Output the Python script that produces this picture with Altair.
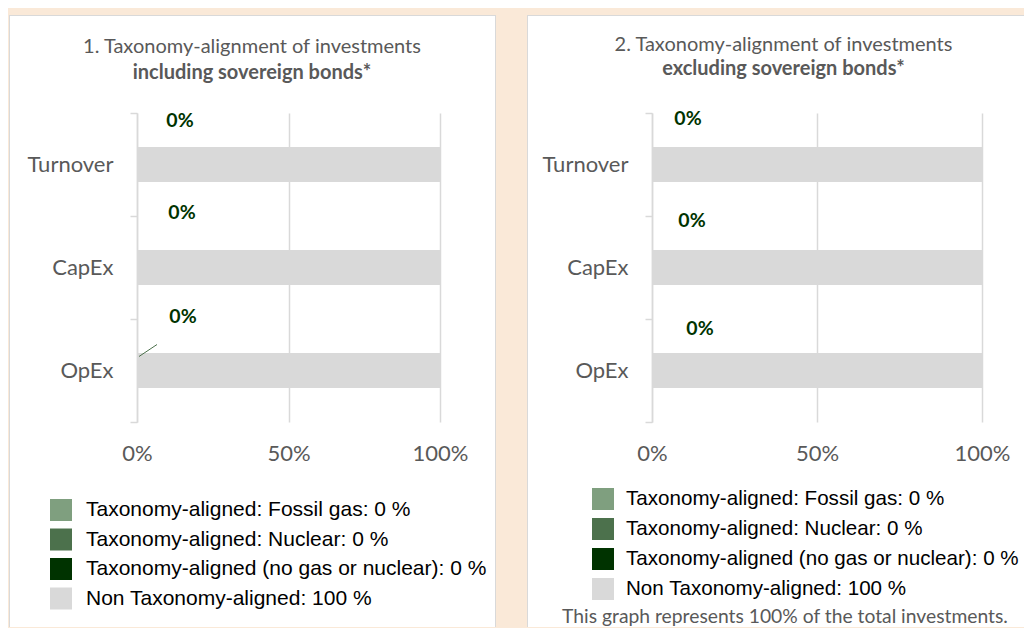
import altair as alt
import pandas as pd

# ---------------- data ----------------
categories = ["Turnover", "CapEx", "OpEx"]
series_names = [
    "Taxonomy-aligned: Fossil gas",
    "Taxonomy-aligned: Nuclear",
    "Taxonomy-aligned (no gas or nuclear)",
    "Non Taxonomy-aligned",
]
# 1. including sovereign bonds
incl_fossil_gas = [0, 0, 0]
incl_nuclear = [0, 0, 0]
incl_aligned = [0, 0, 0]
incl_non_aligned = [100, 100, 100]
# 2. excluding sovereign bonds
excl_fossil_gas = [0, 0, 0]
excl_nuclear = [0, 0, 0]
excl_aligned = [0, 0, 0]
excl_non_aligned = [100, 100, 100]
# legend totals (%)
legend_totals = [0, 0, 0, 100]
x_ticks = [0, 50, 100]

series_colors = ["#7F9F7F", "#4C714C", "#003300", "#D9D9D9"]
legend_labels = [f"{n}: {v} %" for n, v in zip(series_names, legend_totals)]

CAL = "Lato"
GREY = "#595959"
LINE = "#D9D9D9"


def long_df(fossil, nuclear, aligned, non):
    rows = []
    for i, c in enumerate(categories):
        for j, vals in enumerate([fossil, nuclear, aligned, non]):
            rows.append({"category": c, "series": legend_labels[j],
                         "order": j, "value": vals[i]})
    return pd.DataFrame(rows)


def label_df(aligned):
    return pd.DataFrame({"category": categories, "value": aligned,
                         "label": [f"{v}%" for v in aligned]})


one = pd.DataFrame({"k": [0]})


def text_at(x, y, text, size=20, weight="normal", color=GREY, font=CAL):
    return alt.Chart(one).mark_text(
        text=text, font=font, fontSize=size, fontWeight=weight, color=color,
        align="center", baseline="middle").encode(x=alt.value(x), y=alt.value(y))


def panel(df, ldf, width, titles, label_offsets,
          legend_x, legend_y, legend_font, legend_row_pad, legend_label_off,
          box, right_open=False, leader=False, footnote=None):
    ysort = categories
    bx0, bx1, by0, by1 = box
    outer = alt.Chart(one).mark_rect(color=LINE).encode(
        x=alt.value(bx0), x2=alt.value(bx1), y=alt.value(by0), y2=alt.value(by1))
    inner = alt.Chart(one).mark_rect(color="white").encode(
        x=alt.value(bx0 + 1), x2=alt.value(bx1 if right_open else bx1 - 1),
        y=alt.value(by0 + 1), y2=alt.value(by1))

    bars = alt.Chart(df).mark_bar(size=35).encode(
        x=alt.X("value:Q", stack="zero",
                scale=alt.Scale(domain=[0, 100], nice=False),
                axis=alt.Axis(values=x_ticks, labelExpr="datum.value + '%'",
                              grid=True, gridColor=LINE, gridWidth=1.5,
                              domain=False, ticks=False, title=None,
                              labelFlush=False,
                              labelFont=CAL, labelFontSize=22,
                              labelColor=GREY, labelPadding=21, zindex=1)),
        y=alt.Y("category:N", sort=ysort,
                scale=alt.Scale(paddingInner=0, paddingOuter=0),
                axis=alt.Axis(title=None, tickBand="extent", grid=False,
                              domainColor=LINE, domainWidth=1.5,
                              tickColor=LINE, tickWidth=1.5, tickSize=7,
                              labelFont=CAL, labelFontSize=22,
                              labelColor=GREY, labelPadding=17, zindex=1)),
        color=alt.Color("series:N",
                        scale=alt.Scale(domain=legend_labels, range=series_colors),
                        legend=alt.Legend(orient="none", legendX=legend_x,
                                          legendY=legend_y, title=None,
                                          symbolType="square", symbolSize=484,
                                          symbolStrokeWidth=0,
                                          labelFont="Liberation Sans",
                                          labelFontSize=legend_font,
                                          labelColor="#000000", labelLimit=700,
                                          labelOffset=legend_label_off,
                                          rowPadding=legend_row_pad, padding=0,
                                          direction="vertical")),
        order=alt.Order("order:Q"),
    )

    layers = [outer, inner, bars]
    for cat, (dx, dy) in zip(categories, label_offsets):
        layers.append(
            alt.Chart(ldf).transform_filter(alt.datum.category == cat)
            .mark_text(dx=dx, dy=dy, font=CAL, fontWeight="bold",
                       fontSize=19.5, color="#003300", align="center",
                       baseline="middle")
            .encode(x=alt.X("value:Q"), y=alt.Y("category:N", sort=ysort),
                    text="label:N"))
    if leader:
        layers.append(
            alt.Chart(ldf).transform_filter(alt.datum.category == "OpEx")
            .mark_rule(color="#4C714C", strokeWidth=1, xOffset=2, x2Offset=20,
                       yOffset=-14, y2Offset=-26)
            .encode(x=alt.X("value:Q"), x2=alt.X2("value"),
                    y=alt.Y("category:N", sort=ysort), y2=alt.Y2("category")))
    (tx, ty1, ty2, t1, t2) = titles
    layers.append(text_at(tx, ty1, t1))
    layers.append(text_at(tx, ty2, t2, weight="bold"))
    if footnote:
        fx, fy, ftext = footnote
        layers.append(text_at(fx, fy, ftext, size=19.3))

    return alt.layer(*layers).properties(width=width, height=309)


left = panel(
    long_df(incl_fossil_gas, incl_nuclear, incl_aligned, incl_non_aligned),
    label_df(incl_aligned), 303,
    (115, -66, -40, "1. Taxonomy-alignment of investments",
     "including sovereign bonds*"),
    [(43, -43.5), (45, -55), (46, -54)],
    -87, 386, 21, 7.5, 14,
    (-128, 359, -98, 514), leader=True)

right = panel(
    long_df(excl_fossil_gas, excl_nuclear, excl_aligned, excl_non_aligned),
    label_df(excl_aligned), 330,
    (131.5, -68, -44, "2. Taxonomy-alignment of investments",
     "excluding sovereign bonds*"),
    [(36, -45.5), (40, -46.5), (48, -41.5)],
    -60, 375, 20.6, 8, 12,
    (-125, 372, -98, 514), right_open=True,
    footnote=(133, 504, "This graph represents 100% of the total investments."))

chart = (
    alt.hconcat(left, right, spacing=212, bounds="flush")
    .resolve_scale(x="independent", y="independent", color="independent")
    .resolve_legend(color="independent")
    .properties(padding={"left": 1, "top": 7, "right": 0, "bottom": 0})
    .configure(background="#FAE9D8")
    .configure_view(stroke=None)
)

chart.save("out.html", embed_options={"renderer": "svg", "actions": False})
